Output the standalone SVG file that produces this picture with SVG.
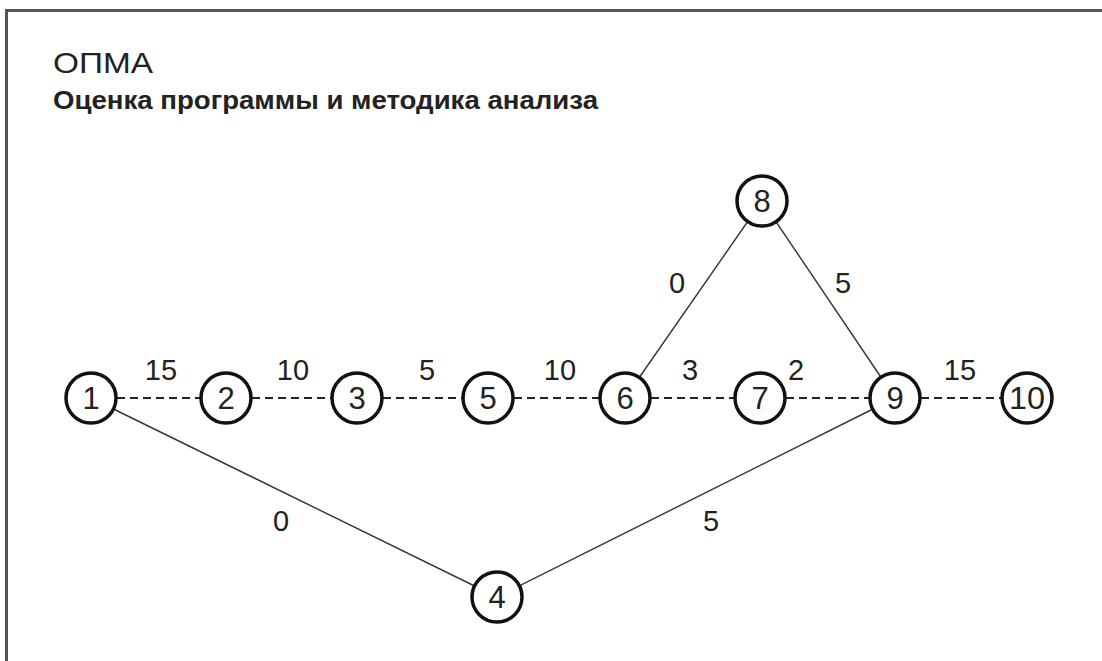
<svg xmlns="http://www.w3.org/2000/svg" width="1102" height="661" viewBox="0 0 1102 661">
<style>
.frame{fill:none;stroke:#555;stroke-width:3}
.node circle{fill:#fff;stroke:#111;stroke-width:3.5}
.node text{font-family:"Liberation Sans",Arial,sans-serif;font-size:31px;fill:#222;text-anchor:middle}
.lbl{font-family:"Liberation Sans",Arial,sans-serif;font-size:29px;fill:#222;text-anchor:middle}
.dash{stroke:#222;stroke-width:1.8;stroke-dasharray:8 5;fill:none}
.solid{stroke:#333;stroke-width:1.4;fill:none}
</style>
<rect width="1102" height="661" fill="#fff"/>
<path class="frame" d="M6.5 661 V10.5 H1102"/>
<text x="53" y="73" font-family="Liberation Sans,Arial,sans-serif" font-size="29" fill="#222" textLength="100" lengthAdjust="spacingAndGlyphs">ОПМА</text>
<text x="53" y="109" font-family="Liberation Sans,Arial,sans-serif" font-size="26" font-weight="bold" fill="#222" textLength="545" lengthAdjust="spacingAndGlyphs">Оценка программы и методика анализа</text>
<g id="connectors">
<line class="dash" x1="91" y1="398" x2="226" y2="398"/>
<line class="dash" x1="226" y1="398" x2="357" y2="398"/>
<line class="dash" x1="357" y1="398" x2="488" y2="398"/>
<line class="dash" x1="488" y1="398" x2="625" y2="398"/>
<line class="dash" x1="625" y1="398" x2="760" y2="398"/>
<line class="dash" x1="760" y1="398" x2="895" y2="398"/>
<line class="dash" x1="895" y1="398" x2="1027" y2="398"/>
<line class="solid" x1="91" y1="398" x2="497" y2="597"/>
<line class="solid" x1="895" y1="398" x2="497" y2="597"/>
<line class="solid" x1="625" y1="398" x2="762" y2="201"/>
<line class="solid" x1="762" y1="201" x2="895" y2="398"/>
<text class="lbl" x="161" y="380">15</text>
<text class="lbl" x="293" y="380">10</text>
<text class="lbl" x="427" y="380">5</text>
<text class="lbl" x="560" y="380">10</text>
<text class="lbl" x="690" y="380">3</text>
<text class="lbl" x="796" y="380">2</text>
<text class="lbl" x="960" y="380">15</text>
<text class="lbl" x="677" y="293">0</text>
<text class="lbl" x="843" y="293">5</text>
<text class="lbl" x="281" y="531">0</text>
<text class="lbl" x="711" y="531">5</text>
</g>
<g id="n1" class="node"><circle cx="91" cy="398" r="25"/><text x="91" y="409">1</text></g>
<g id="n2" class="node"><circle cx="226" cy="398" r="25"/><text x="226" y="409">2</text></g>
<g id="n3" class="node"><circle cx="357" cy="398" r="25"/><text x="357" y="409">3</text></g>
<g id="n5" class="node"><circle cx="488" cy="398" r="25"/><text x="488" y="409">5</text></g>
<g id="n6" class="node"><circle cx="625" cy="398" r="25"/><text x="625" y="409">6</text></g>
<g id="n7" class="node"><circle cx="760" cy="398" r="25"/><text x="760" y="409">7</text></g>
<g id="n9" class="node"><circle cx="895" cy="398" r="25"/><text x="895" y="409">9</text></g>
<g id="n10" class="node"><circle cx="1027" cy="398" r="25"/><text x="1027" y="409" textLength="36" lengthAdjust="spacingAndGlyphs">10</text></g>
<g id="n8" class="node"><circle cx="762" cy="201" r="25"/><text x="762" y="212">8</text></g>
<g id="n4" class="node"><circle cx="497" cy="597" r="25"/><text x="497" y="608">4</text></g>
</svg>
